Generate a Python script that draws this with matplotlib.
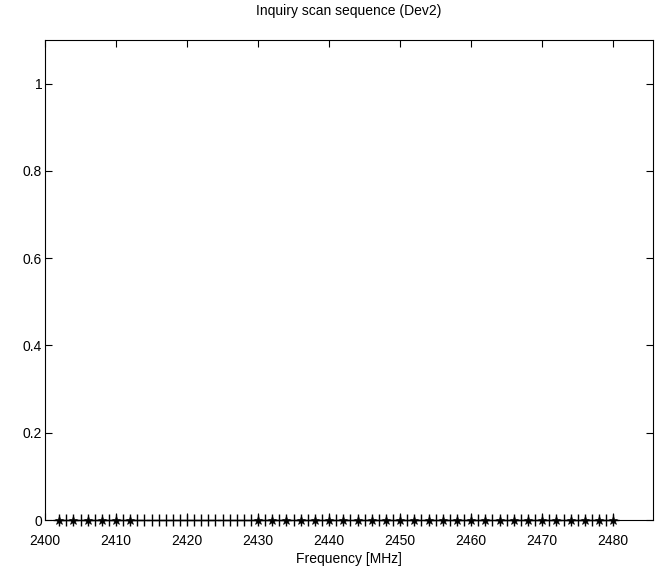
import matplotlib
matplotlib.use("Agg")
import matplotlib.pyplot as plt
import numpy as np

# all 79 channels (MHz) shown with '+'
channels = [2402, 2403, 2404, 2405, 2406, 2407, 2408, 2409, 2410, 2411,
            2412, 2413, 2414, 2415, 2416, 2417, 2418, 2419, 2420, 2421,
            2422, 2423, 2424, 2425, 2426, 2427, 2428, 2429, 2430, 2431,
            2432, 2433, 2434, 2435, 2436, 2437, 2438, 2439, 2440, 2441,
            2442, 2443, 2444, 2445, 2446, 2447, 2448, 2449, 2450, 2451,
            2452, 2453, 2454, 2455, 2456, 2457, 2458, 2459, 2460, 2461,
            2462, 2463, 2464, 2465, 2466, 2467, 2468, 2469, 2470, 2471,
            2472, 2473, 2474, 2475, 2476, 2477, 2478, 2479, 2480]
channel_level = [0] * len(channels)

# inquiry scan channels (32) shown with '*'
scan_freqs = [2402, 2404, 2406, 2408, 2410, 2412,
              2430, 2432, 2434, 2436, 2438, 2440, 2442, 2444, 2446, 2448,
              2450, 2452, 2454, 2456, 2458, 2460, 2462, 2464, 2466, 2468,
              2470, 2472, 2474, 2476, 2478, 2480]
scan_level = [0] * len(scan_freqs)

plt.rcParams['font.family'] = ['Liberation Sans', 'DejaVu Sans']

fig = plt.figure(figsize=(6.62, 5.72), dpi=100)
ax = fig.add_axes([45 / 662, 52 / 572, 608 / 662, 480 / 572])

ax.plot(channels, channel_level, '+', color='black', markersize=8,
        markeredgewidth=1.0, clip_on=False)
ax.plot(scan_freqs, scan_level, '*', color='black', markersize=6.5,
        markeredgewidth=0.4, clip_on=False)

ax.set_xlim(2400, 2485.6)
ax.set_ylim(0, 1.1)
ax.set_xticks(np.arange(2400, 2481, 10))
ax.set_yticks([0, 0.2, 0.4, 0.6, 0.8, 1])
ax.set_yticklabels(['0', '0.2', '0.4', '0.6', '0.8', '1'])
ax.tick_params(direction='in', top=True, right=True, length=5,
               width=0.8, labelsize=10, pad=2)
ax.tick_params(axis='x', pad=10)
for s in ax.spines.values():
    s.set_linewidth(0.8)

ax.set_title('Inquiry scan sequence (Dev2)', fontsize=10, pad=18)
ax.set_xlabel('Frequency [MHz]', fontsize=10, labelpad=3)

fig.savefig('out.png', dpi=100)
